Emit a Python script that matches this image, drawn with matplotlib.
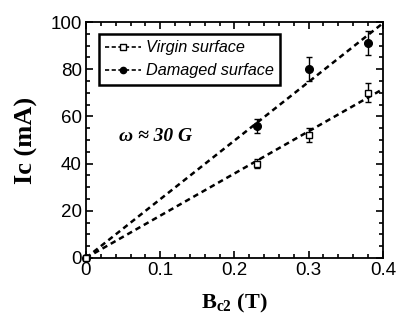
import numpy as np
import matplotlib
matplotlib.use("Agg")
import matplotlib.pyplot as plt
from matplotlib.lines import Line2D
from matplotlib.ticker import MultipleLocator

# ---------------- DATA ----------------
bc2 = [0.0, 0.23, 0.30, 0.38]
ic_virgin = [0.0, 40.0, 52.0, 70.0]
err_virgin = [0.0, 2.0, 3.0, 4.0]
ic_damaged = [0.0, 56.0, 80.0, 91.0]
err_damaged = [0.0, 3.0, 5.0, 5.0]

labels = ["Virgin surface", "Damaged surface"]

# linear fits through origin
x = np.array(bc2)
slope_v = np.sum(x * np.array(ic_virgin)) / np.sum(x * x)
slope_d = np.sum(x * np.array(ic_damaged)) / np.sum(x * x)
xfit = np.array([0.0, 0.4])

# ---------------- PLOT ----------------
fig = plt.figure(figsize=(3.98, 3.24), dpi=100)
ax = fig.add_axes([0.216, 0.204, 0.746, 0.728])

dash = (0, (2.2, 1.6))
ax.plot(xfit, slope_d * xfit, color="black", lw=1.8, linestyle=dash)
ax.plot(xfit, slope_v * xfit, color="black", lw=1.8, linestyle=dash)

ax.errorbar(bc2, ic_damaged, yerr=err_damaged, fmt="o", color="black",
            ms=5.5, capsize=2.5, elinewidth=1, capthick=1, clip_on=False, zorder=4)
ax.errorbar(bc2, ic_virgin, yerr=err_virgin, fmt="s", color="black", mfc="white",
            ms=5, capsize=2.5, elinewidth=1, capthick=1, clip_on=False, zorder=4)

ax.set_xlim(0, 0.4)
ax.set_ylim(0, 100)
ax.xaxis.set_minor_locator(MultipleLocator(0.02))
ax.yaxis.set_major_locator(MultipleLocator(20))
ax.yaxis.set_minor_locator(MultipleLocator(5))
ax.set_xticks([0, 0.1, 0.2, 0.3, 0.4])
ax.set_xticklabels(["0", "0.1", "0.2", "0.3", "0.4"])
ax.tick_params(which="both", direction="in", top=True, right=True, width=1.2)
ax.tick_params(which="major", length=5, labelsize=13.5, pad=3)
ax.tick_params(which="minor", length=3)
for lab in ax.get_xticklabels() + ax.get_yticklabels():
    lab.set_family("Liberation Sans")
for s in ax.spines.values():
    s.set_linewidth(1.3)

ax.set_xlabel(r"B$_{\mathregular{c2}}$ (T)", family="Liberation Serif",
              fontweight="bold", fontsize=16, labelpad=9)
ax.set_ylabel("Ic (mA)", family="Liberation Serif", fontweight="bold",
              fontsize=19, labelpad=9)

ax.text(0.045, 51.5, "ω ≈ 30 G", family="Liberation Serif", fontweight="bold",
        style="italic", fontsize=14, va="center")

handles = [
    Line2D([], [], color="black", lw=1.2, linestyle=(0, (2.5, 1.5)), marker="s",
           mfc="white", ms=4.5),
    Line2D([], [], color="black", lw=1.2, linestyle=(0, (2.5, 1.5)), marker="o",
           ms=4.5),
]
leg = ax.legend(handles, labels, loc="upper left", bbox_to_anchor=(0.015, 0.985),
                numpoints=1, handlelength=2.2, handletextpad=0.3,
                borderpad=0.4, labelspacing=0.5, fancybox=False,
                framealpha=1, edgecolor="black",
                prop={"family": "Liberation Sans", "style": "italic", "size": 11.7})
leg.get_frame().set_linewidth(1.8)

fig.savefig("out.png", dpi=100)
